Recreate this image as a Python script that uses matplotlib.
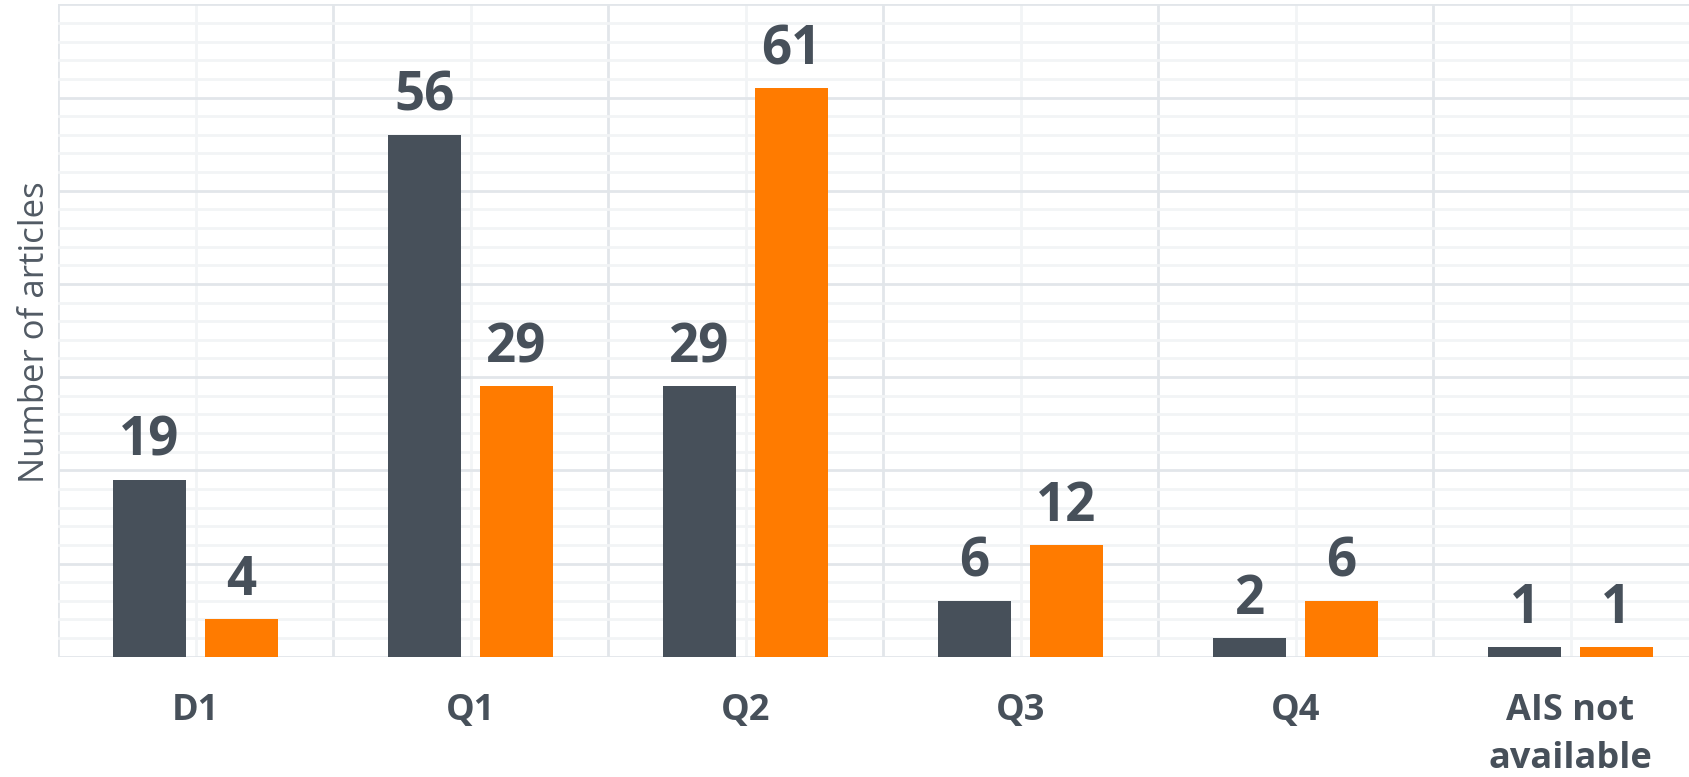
import matplotlib
matplotlib.use("Agg")
import matplotlib.pyplot as plt
import numpy as np
from matplotlib.ticker import MultipleLocator

categories = ["D1", "Q1", "Q2", "Q3", "Q4", "AIS not\navailable"]
series_a = [19, 56, 29, 6, 2, 1]
series_b = [4, 29, 61, 12, 6, 1]

DARK = "#47505a"
ORANGE = "#ff7b00"
TEXT = "#47505a"

plt.rcParams['font.family'] = ['Open Sans', 'DejaVu Sans']

W, H = 1690, 777
fig = plt.figure(figsize=(W / 100, H / 100), dpi=100)
left = 58 / W
bottom = (H - 656.7) / H
width = 1650 / W
height = 652.4 / H
ax = fig.add_axes([left, bottom, width, height])

x = np.arange(len(categories))
bw = 0.265
off = 0.167
ax.bar(x - off, series_a, width=bw, color=DARK, zorder=3)
ax.bar(x + off, series_b, width=bw, color=ORANGE, zorder=3)

for xi, a, b in zip(x, series_a, series_b):
    for xx, v in ((xi - off, a), (xi + off, b)):
        ax.annotate(str(v), (xx, v), xytext=(0, 24 * 0.72), textcoords="offset points",
                    ha="center", va="baseline", fontsize=38, fontweight="bold", color=TEXT)

ax.set_xlim(-0.5, len(categories) - 0.5)
ax.set_ylim(0, 70)

ax.yaxis.set_major_locator(MultipleLocator(10))
ax.yaxis.set_minor_locator(MultipleLocator(2))
ax.set_xticks(np.arange(-0.5, len(categories) + 0.5, 1.0), minor=False)
ax.set_xticklabels([""] * (len(categories) + 1))
ax.set_xticks(x, minor=True)
ax.set_xticklabels(categories, minor=True, fontsize=26, fontweight="bold", color=TEXT,
                   linespacing=1.45)
ax.tick_params(axis="x", which="both", length=0, pad=26)
ax.tick_params(axis="y", which="both", length=0, labelleft=False)

ax.grid(True, which="major", color="#e2e6ea", linewidth=2, zorder=0)
ax.grid(True, which="minor", color="#f2f4f6", linewidth=2, zorder=0)
ax.set_axisbelow(True)
for s in ax.spines.values():
    s.set_visible(False)

fig.text(44 / W, (H - 332) / H, "Number of articles", rotation=90, rotation_mode="anchor",
         ha="center", va="baseline", fontsize=25, color="#515a64")

fig.savefig("out.png", dpi=100)
